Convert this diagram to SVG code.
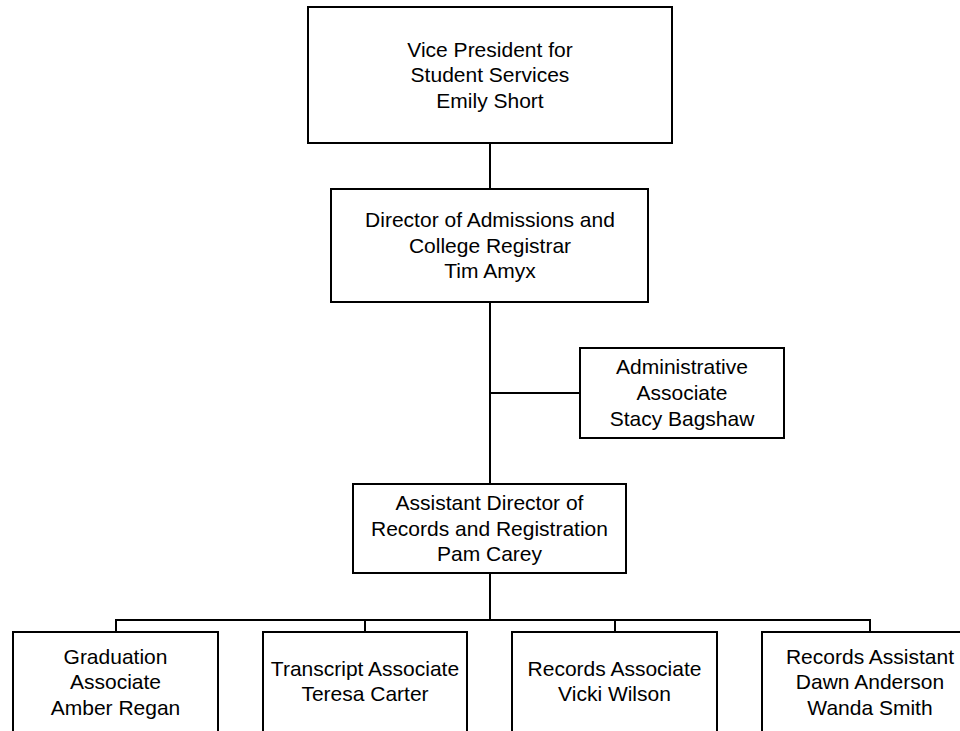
<svg xmlns="http://www.w3.org/2000/svg" width="960" height="731" viewBox="0 0 960 731">
<style>
rect.box{fill:#fff;stroke:#000;stroke-width:2}
.conn line{stroke:#000;stroke-width:2}
text{font-family:"Liberation Sans",Arial,sans-serif;font-size:21px;fill:#000;text-anchor:middle}
</style>
<rect width="960" height="731" fill="#fff"/>
<g class="conn" id="connectors">
<line x1="490" y1="143" x2="490" y2="189"/>
<line x1="490" y1="302" x2="490" y2="484"/>
<line x1="490" y1="393" x2="580" y2="393"/>
<line x1="490" y1="573" x2="490" y2="620"/>
<line x1="115" y1="620" x2="871" y2="620"/>
<line x1="116" y1="619" x2="116" y2="632"/>
<line x1="365" y1="619" x2="365" y2="632"/>
<line x1="615" y1="619" x2="615" y2="632"/>
<line x1="870" y1="619" x2="870" y2="632"/>
</g>
<g id="vp">
<rect class="box" x="308" y="7" width="364" height="136"/>
<text x="490" y="56.5">Vice President for</text>
<text x="490" y="82">Student Services</text>
<text x="490" y="107.5">Emily Short</text>
</g>
<g id="director">
<rect class="box" x="331" y="189" width="317" height="113"/>
<text x="490" y="227">Director of Admissions and</text>
<text x="490" y="252.5">College Registrar</text>
<text x="490" y="278">Tim Amyx</text>
</g>
<g id="admin">
<rect class="box" x="580" y="348" width="204" height="90"/>
<text x="682" y="374">Administrative</text>
<text x="682" y="400">Associate</text>
<text x="682" y="425.5">Stacy Bagshaw</text>
</g>
<g id="asstdir">
<rect class="box" x="353" y="484" width="273" height="89"/>
<text x="489.5" y="510">Assistant Director of</text>
<text x="489.5" y="535.5">Records and Registration</text>
<text x="489.5" y="561">Pam Carey</text>
</g>
<g id="graduation">
<rect class="box" x="13" y="632" width="205" height="100"/>
<text x="115.5" y="663.5">Graduation</text>
<text x="115.5" y="689">Associate</text>
<text x="115.5" y="714.5">Amber Regan</text>
</g>
<g id="transcript">
<rect class="box" x="263" y="632" width="204" height="100"/>
<text x="365" y="675.5">Transcript Associate</text>
<text x="365" y="701">Teresa Carter</text>
</g>
<g id="recordsassoc">
<rect class="box" x="512" y="632" width="205" height="100"/>
<text x="614.5" y="675.5">Records Associate</text>
<text x="614.5" y="701">Vicki Wilson</text>
</g>
<g id="recordsasst">
<rect class="box" x="762" y="632" width="216" height="100"/>
<text x="870" y="663.5">Records Assistant</text>
<text x="870" y="689">Dawn Anderson</text>
<text x="870" y="714.5">Wanda Smith</text>
</g>
</svg>
